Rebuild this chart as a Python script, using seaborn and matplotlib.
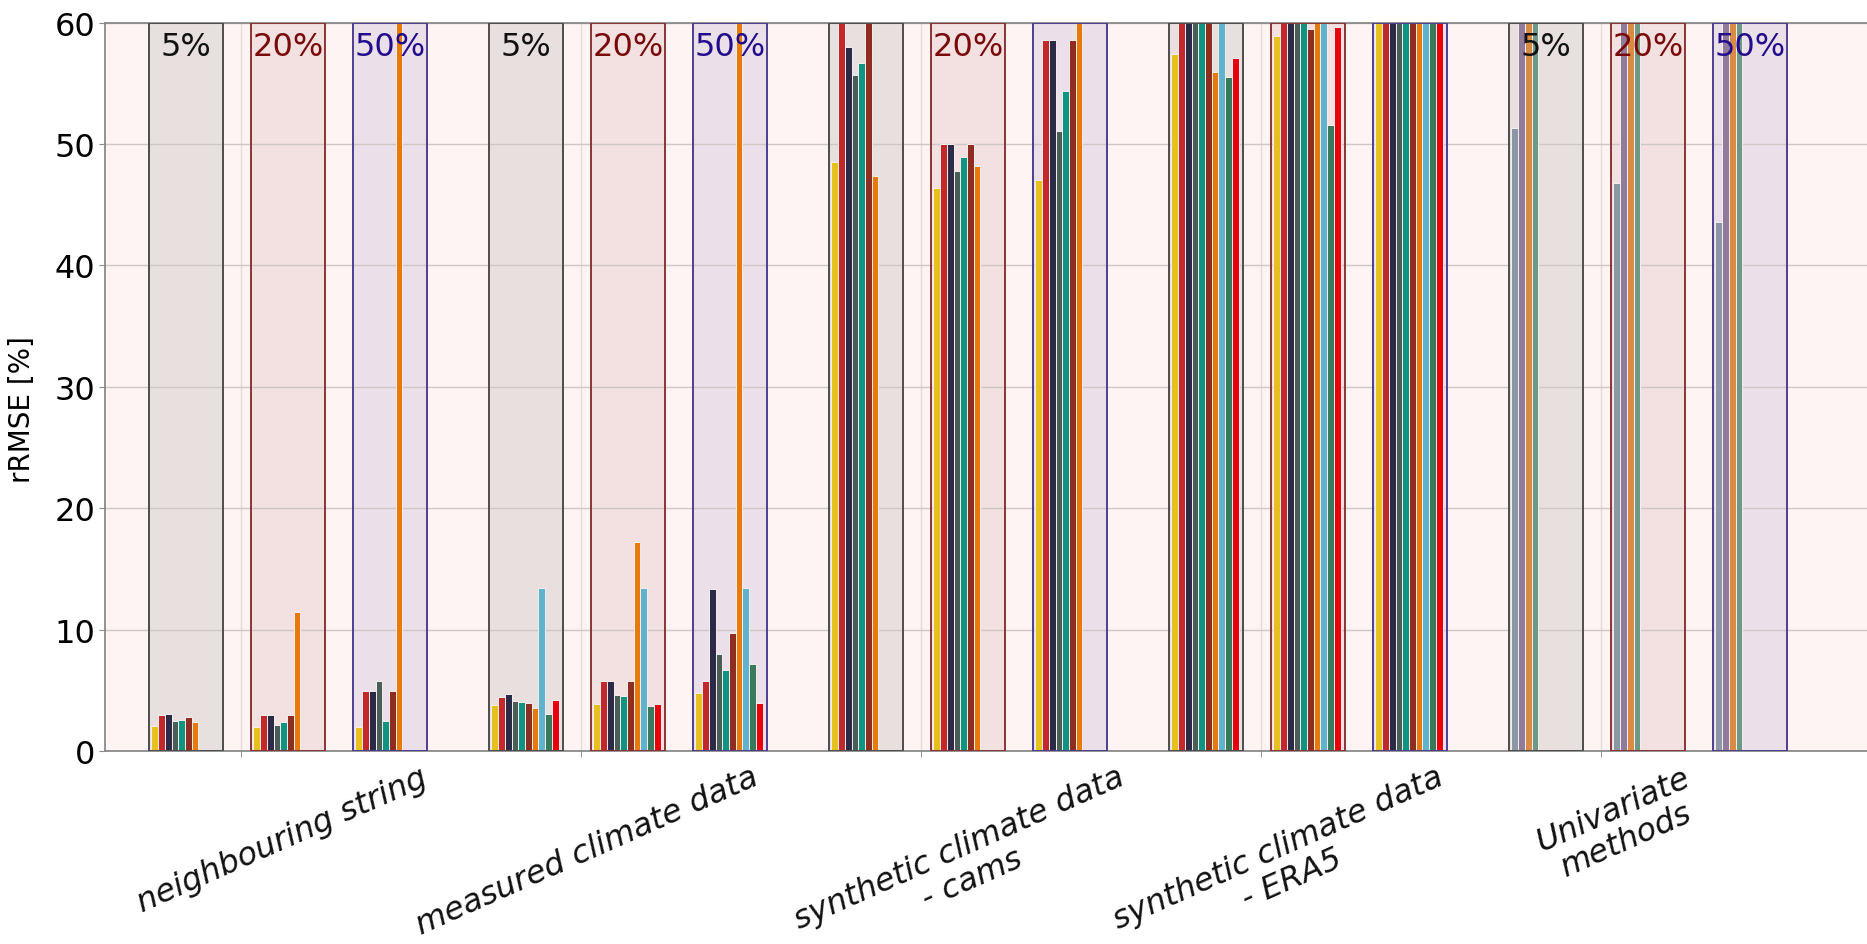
import numpy as np
import pandas as pd
import matplotlib
matplotlib.use("Agg")
import matplotlib.pyplot as plt
from matplotlib.patches import Rectangle
import seaborn as sns

# ---------------------------------------------------------------- data
groups = ["neighbouring string", "measured climate data",
          "synthetic climate data\n- cams", "synthetic climate data\n- ERA5",
          "Univariate\nmethods"]
shares = ["5%", "20%", "50%"]

nan = np.nan
# rRMSE [%] for every (group, share) block: 5 groups x 3 shares
s01 = [2.1, 2.0, 2.0, 3.85, 3.9, 4.8, 48.5, 46.4, 47.0, 57.4, 58.9, 75.0, nan, nan, nan]
s02 = [3.0, 3.0, 5.0, 4.45, 5.8, 5.8, 75.0, 50.0, 58.6, 75.0, 75.0, 75.0, nan, nan, nan]
s03 = [3.05, 3.0, 5.0, 4.75, 5.75, 13.35, 58.0, 50.0, 58.6, 75.0, 75.0, 75.0, nan, nan, nan]
s04 = [2.5, 2.2, 5.8, 4.15, 4.6, 8.05, 55.7, 47.8, 51.1, 75.0, 75.0, 75.0, nan, nan, nan]
s05 = [2.6, 2.4, 2.5, 4.05, 4.55, 6.7, 56.7, 48.9, 54.4, 75.0, 75.0, 75.0, nan, nan, nan]
s06 = [2.85, 3.0, 5.0, 3.95, 5.8, 9.7, 75.0, 50.0, 58.6, 75.0, 59.5, 75.0, nan, nan, nan]
s07 = [2.45, 11.5, 75.0, 3.6, 17.2, 75.0, 47.4, 48.2, 75.0, 55.9, 75.0, 75.0, nan, nan, nan]
s08 = [nan, nan, nan, 13.45, 13.45, 13.45, nan, nan, nan, 75.0, 75.0, 75.0, nan, nan, nan]
s09 = [nan, nan, nan, 3.05, 3.7, 7.2, nan, nan, nan, 55.5, 51.6, 75.0, nan, nan, nan]
s10 = [nan, nan, nan, 4.2, 3.9, 4.0, nan, nan, nan, 57.1, 59.6, 75.0, nan, nan, nan]
u01 = [nan] * 12 + [51.3, 46.8, 43.6]
u02 = [nan] * 12 + [75.0, 75.0, 75.0]
u03 = [nan] * 12 + [75.0, 75.0, 75.0]
u04 = [nan] * 12 + [75.0, 75.0, 75.0]

series_names = ["S1", "S2", "S3", "S4", "S5", "S6", "S7", "S8", "S9", "S10",
                "U1", "U2", "U3", "U4"]
series_values = [s01, s02, s03, s04, s05, s06, s07, s08, s09, s10,
                 u01, u02, u03, u04]
series_colors = ["#e6c01e", "#c3282a", "#2b2b47", "#4a5e57", "#0e9480",
                 "#8e2e20", "#e87a0c", "#5fb3cc", "#3a7a5c", "#e8000c",
                 "#8a98a6", "#917b9b", "#d98a45", "#6d9884"]

# which share captions are written inside the boxes
show_caption = [[1, 1, 1], [1, 1, 1], [0, 1, 0], [0, 0, 0], [1, 1, 1]]

# ---------------------------------------------------------------- layout
GROUP_PITCH = 10 / 3
BOX_HALF = 0.36
SLOT = 0.066
FIRST_GAP = 0.02
box_face = ["#e8dfdf", "#f3e0e0", "#ebe0ea"]
box_edge = ["#4d4d4d", "#8b3535", "#4b3f90"]
caption_color = ["#111111", "#7a0a0a", "#220c8c"]
label_dx = [0.94, 0.60, 0.98, 0.78, 0.72]

rows = []
for g in range(len(groups)):
    for k in range(len(shares)):
        idx = g * len(shares) + k
        centre = g * GROUP_PITCH + k
        slot = 0
        for name, vals in zip(series_names, series_values):
            v = vals[idx]
            if np.isnan(v):
                continue
            x = centre - BOX_HALF + FIRST_GAP + (slot + 0.5) * SLOT
            rows.append({"x": round(x, 6), "value": v, "series": name})
            slot += 1
df = pd.DataFrame(rows)

# ---------------------------------------------------------------- figure
plt.rcParams["font.family"] = ["DejaVu Sans"]
fig = plt.figure(figsize=(18.67, 9.45), dpi=100)
ax = fig.add_axes([105 / 1867, 1 - 752.3 / 945, 1 - 105 / 1867, 728.7 / 945])
ax.set_facecolor("#fdf4f3")

sns.barplot(data=df, x="x", y="value", hue="series", hue_order=series_names,
            palette=dict(zip(series_names, series_colors)), native_scale=True,
            dodge=False, width=1.0, saturation=1, errorbar=None, legend=False,
            edgecolor="#f6eeee", linewidth=0.7, zorder=3, ax=ax)

ymax = 60
for g in range(len(groups)):
    for k in range(len(shares)):
        centre = g * GROUP_PITCH + k
        ax.add_patch(Rectangle((centre - BOX_HALF, 0), 2 * BOX_HALF, ymax,
                               facecolor=box_face[k], edgecolor="none", zorder=1))
        ax.add_patch(Rectangle((centre - BOX_HALF, 0), 2 * BOX_HALF, ymax,
                               facecolor="none", edgecolor=box_edge[k],
                               linewidth=1.4, zorder=3.5))
        if show_caption[g][k]:
            ax.text(centre, 58.0, shares[k], ha="center", va="center",
                    fontsize=23, color=caption_color[k], zorder=4)

# group labels under the axis
for g, name in enumerate(groups):
    ax.text(g * GROUP_PITCH + label_dx[g], -0.014, name,
            transform=ax.get_xaxis_transform(), ha="center", va="top",
            multialignment="center", rotation=24, fontsize=23,
            linespacing=1.1, fontstyle="italic", color="#111111")

ax.set_xticks([g * GROUP_PITCH + 0.54 for g in range(len(groups))])
ax.set_xticklabels([])
ax.set_xlim(-0.794, -0.794 + (1867 - 105) / 102)
ax.set_ylim(0, ymax)
ax.set_yticks(range(0, 61, 10))
ax.set_xlabel("")
ax.set_ylabel("rRMSE [%]", fontsize=20)
ax.yaxis.set_label_coords(-0.039, 0.47)

ax.set_axisbelow("line")
ax.yaxis.grid(True, color="#cfc6c6", linewidth=1.0)
ax.xaxis.grid(True, color="#e4dbdb", linewidth=1.0)
ax.tick_params(axis="y", labelsize=23, length=4, color="#8a8a8a", pad=3)
ax.tick_params(axis="x", length=4, color="#9a9a9a")

for side in ["left", "bottom", "top"]:
    ax.spines[side].set_color("#8a8a8a")
    ax.spines[side].set_linewidth(1.3)
ax.spines["right"].set_visible(False)

fig.savefig("out.png", dpi=100)
